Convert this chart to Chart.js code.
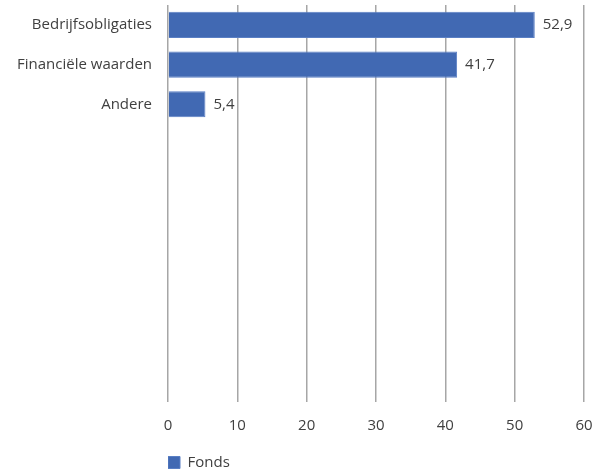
<!DOCTYPE html>
<html>
<head>
<meta charset="utf-8">
<script src="https://cdn.jsdelivr.net/npm/chart.js@4"></script>
<style>
  html, body { margin: 0; padding: 0; background: #fff; }
  #wrap { width: 595px; height: 470px; }
</style>
</head>
<body>
<div id="wrap"><canvas id="grafiek"></canvas></div>
<script>
// Gegevens
const categorieen = ['Bedrijfsobligaties', 'Financiële waarden', 'Andere', '', '', '', '', '', '', ''];
const fonds = [52.9, 41.7, 5.4, null, null, null, null, null, null, null];
const xTicks = [0, 10, 20, 30, 40, 50, 60];

const tekstKleur = '#404040';
const lettertype = { family: 'Open Sans', size: 15 };

// geen extra ruimte voor halve labels aan de randen
const geenPadding = s => { s.paddingTop = s.paddingBottom = s.paddingLeft = s.paddingRight = 0; };

// Waardelabels naast de balken
const waardeLabels = {
  id: 'waardeLabels',
  afterDatasetsDraw(chart) {
    const ctx = chart.ctx;
    const meta = chart.getDatasetMeta(0);
    ctx.save();
    ctx.font = '15px "Open Sans"';
    ctx.fillStyle = tekstKleur;
    ctx.textAlign = 'left';
    ctx.textBaseline = 'middle';
    meta.data.forEach((bar, i) => {
      const v = fonds[i];
      if (v == null) return;
      ctx.fillText(v.toFixed(1).replace('.', ','), bar.x + 8, bar.y);
    });
    ctx.restore();
  }
};

new Chart(document.getElementById('grafiek'), {
  type: 'bar',
  data: {
    labels: categorieen,
    datasets: [{
      label: 'Fonds',
      data: fonds,
      backgroundColor: '#4169b3',
      borderColor: '#5a7fc4',
      borderWidth: 1,
      categoryPercentage: 1,
      barPercentage: 0.66
    }]
  },
  options: {
    indexAxis: 'y',
    responsive: true,
    maintainAspectRatio: false,
    animation: false,
    layout: { padding: { top: 5, right: 11, left: 0, bottom: -10 } },
    plugins: {
      legend: {
        position: 'bottom',
        align: 'start',
        fullSize: false,
        labels: {
          color: tekstKleur,
          font: lettertype,
          boxWidth: 12,
          boxHeight: 12,
          padding: 0
        }
      },
      tooltip: { enabled: false }
    },
    scales: {
      x: {
        min: 0,
        max: 60,
        afterBuildTicks: s => { s.ticks = xTicks.map(v => ({ value: v })); },
        afterFit: s => { s.height = 53; geenPadding(s); },
        border: { display: false },
        grid: { color: '#a6a6a6', lineWidth: 1.5, drawTicks: false },
        ticks: { color: tekstKleur, font: lettertype, padding: 15 }
      },
      y: {
        afterFit: s => { s.width = 168; geenPadding(s); },
        border: { display: false },
        grid: { display: false },
        ticks: { color: tekstKleur, font: lettertype, padding: 8, autoSkip: false }
      }
    }
  },
  plugins: [waardeLabels]
});
</script>
</body>
</html>
